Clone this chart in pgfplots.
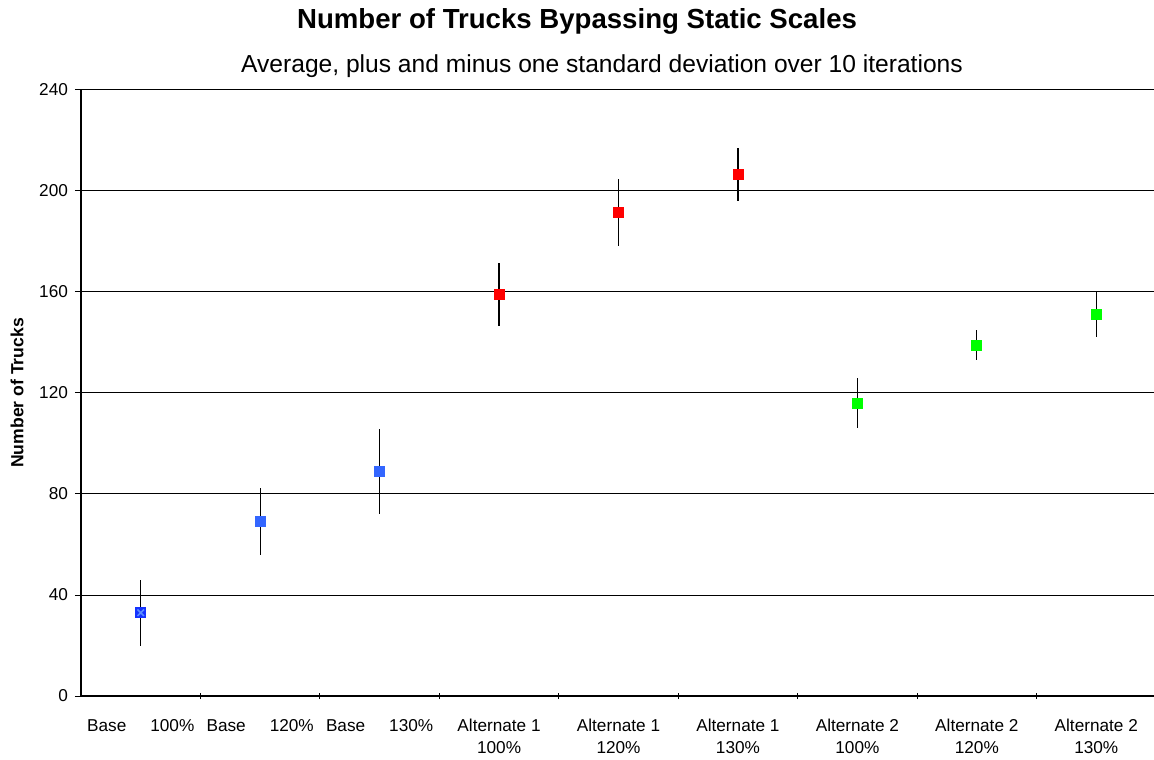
\documentclass[border=0pt]{standalone}
\usepackage{pgfplots}
\pgfplotsset{compat=1.18}
\usepackage{fontspec}
\setmainfont{Liberation Sans}
\definecolor{baseblue}{RGB}{51,102,255}
\definecolor{basedark}{RGB}{20,50,255}
\definecolor{baselight}{RGB}{90,140,255}
\definecolor{altred}{RGB}{255,0,0}
\definecolor{altgreen}{RGB}{0,255,0}

\begin{document}
\begin{tikzpicture}
\begin{axis}[
    name=ax,
    scale only axis,
    width=537.5pt,
    height=303pt,
    xmin=0.5, xmax=9.5,
    ymin=0, ymax=240,
    ytick={0,40,...,240},
    axis lines=left,
    axis line style={-, black, line width=0.6pt},
    ymajorgrids,
    grid style={black, line width=0.5pt},
    y tick style={black, line width=0.5pt},
    ytick align=outside,
    major tick length=3pt,
    xtick={1.5,2.5,...,8.5},
    xticklabels={},
    x tick style={black, line width=0.5pt},
    xtick align=center,
    extra x ticks={1,2,3,4,5,6,7,8,9},
    extra x tick labels={Base\hspace{12pt}100\%, Base\hspace{12pt}120\%, Base\hspace{12pt}130\%,
        Alternate 1\\100\%, Alternate 1\\120\%, Alternate 1\\130\%,
        Alternate 2\\100\%, Alternate 2\\120\%, Alternate 2\\130\%},
    extra x tick style={major tick length=0pt, grid=none,
        xticklabel style={align=center, anchor=north, yshift=-8pt,
            font=\fontsize{8.6}{11}\selectfont}},
    yticklabel style={font=\fontsize{8.6}{10}\selectfont, xshift=0pt},
    /pgf/number format/assume math mode=true,
    ylabel={Number of Trucks},
    every axis y label/.style={at={(axis description cs:-0.0595,0.5)}, rotate=90,
        anchor=center, font=\bfseries\fontsize{8.8}{10}\selectfont},
    clip=false,
    error bars/y dir=both,
    error bars/y explicit,
    error bars/error mark=none,
    error bars/error bar style={black, line width=0.6pt},
]
% Base 100%
\addplot[only marks, mark=square*, mark size=2.5pt, mark options={fill=basedark, draw=basedark}]
    coordinates {(1,33) +- (0,13)};
\addplot[only marks, mark=x, mark size=2.3pt, mark options={draw=baselight, line width=0.8pt}]
    coordinates {(1,33)};
% Base 120%, 130%
\addplot[only marks, mark=square*, mark size=2.5pt, mark options={fill=baseblue, draw=baseblue}]
    coordinates {(2,69) +- (0,13.3) (3,89) +- (0,16.8)};
% Alternate 1
\addplot[only marks, mark=square*, mark size=2.5pt, mark options={fill=altred, draw=altred}]
    coordinates {(4,159) +- (0,12.5) (5,191.5) +- (0,13.1) (6,206.5) +- (0,10.5)};
% Alternate 2
\addplot[only marks, mark=square*, mark size=2.5pt, mark options={fill=altgreen, draw=altgreen}]
    coordinates {(7,116) +- (0,9.9) (8,139) +- (0,6) (9,151.2) +- (0,9.1)};

\node[font=\bfseries\fontsize{13.8}{16}\selectfont] at (axis cs:4.653,267.3)
    {Number of Trucks Bypassing Static Scales};
\node[font=\fontsize{12.3}{14}\selectfont] at (axis cs:4.862,249.5)
    {Average, plus and minus one standard deviation over 10 iterations};
\end{axis}
\pgfresetboundingbox
\useasboundingbox ([shift={(-40.5pt,-31.5pt)}]ax.south west) rectangle ([shift={(-1pt,45pt)}]ax.north east);
\end{tikzpicture}
\end{document}
